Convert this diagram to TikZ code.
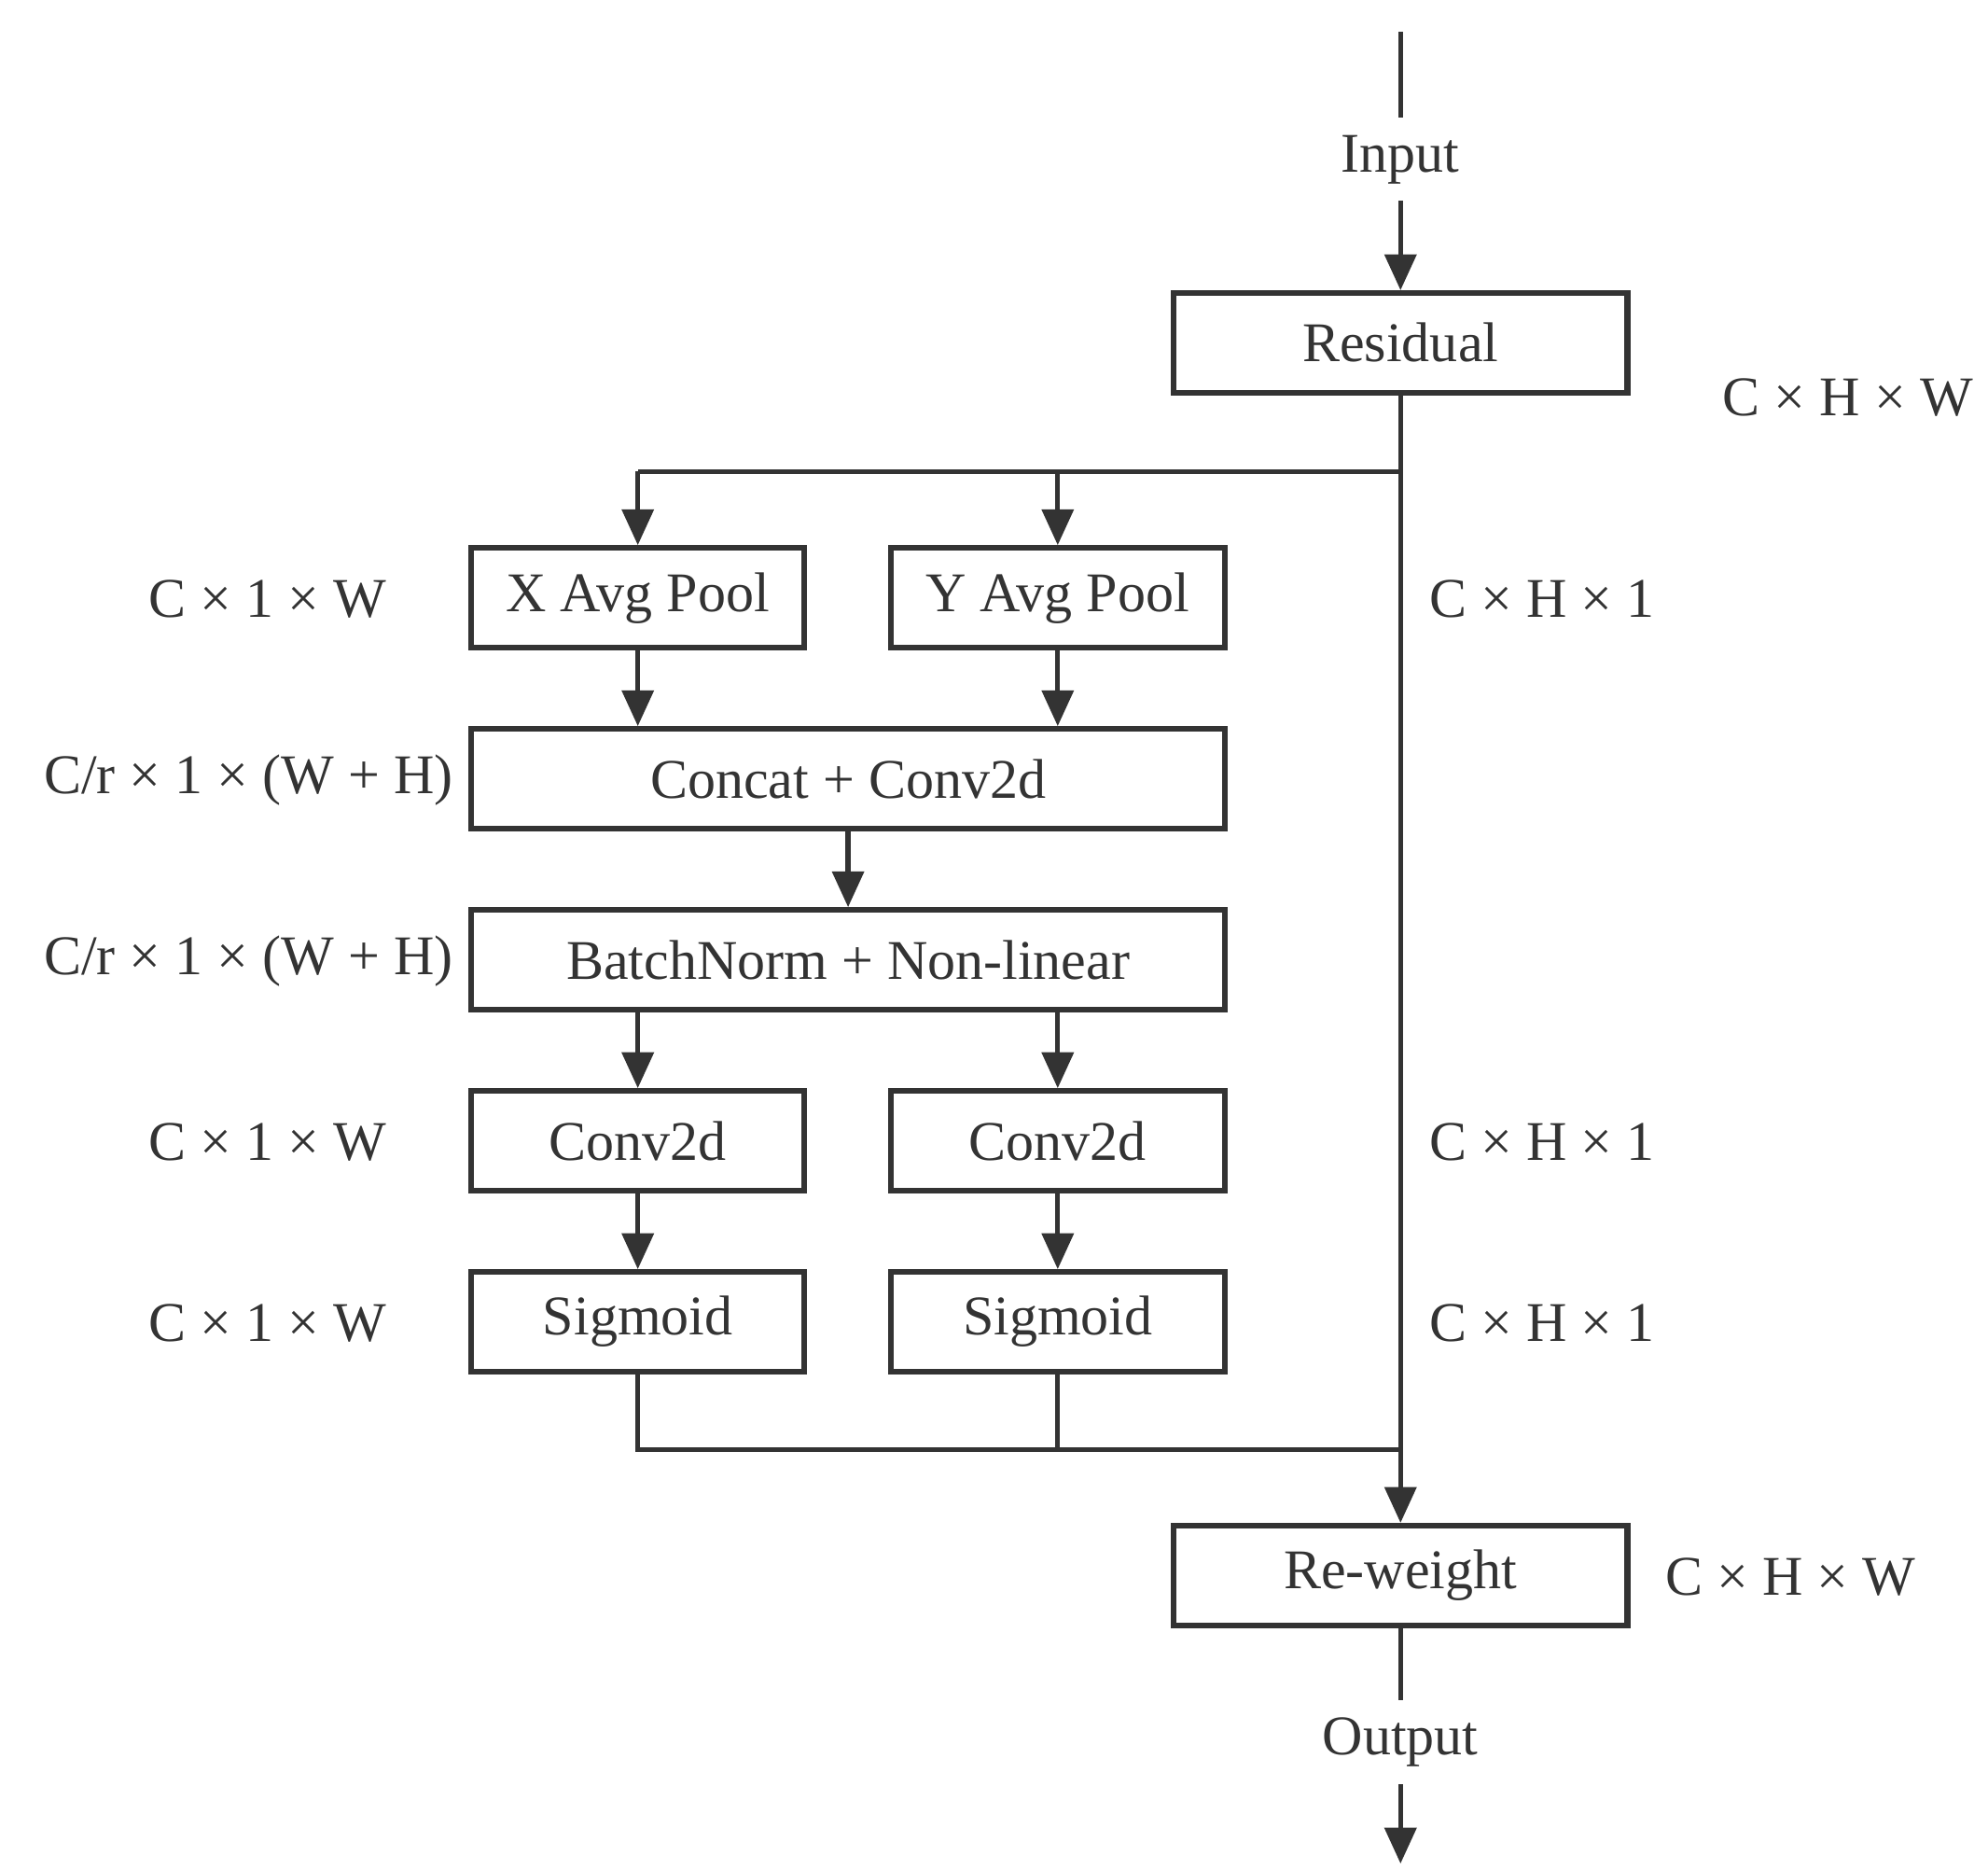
\documentclass[tikz,border=0pt]{standalone}
\usepackage{fontspec}
\setmainfont{Liberation Serif}
\usetikzlibrary{arrows.meta}
\definecolor{ink}{HTML}{333333}
\begin{document}
\begin{tikzpicture}[x=0.01cm,y=-0.01cm,
  line width=1.1pt, draw=ink, text=ink,
  box/.style={draw=ink, line width=1.3pt, minimum height=0.78cm, inner sep=0pt, font=\fontsize{12.5}{15}\selectfont},
  lab/.style={font=\fontsize{12.5}{15}\selectfont, text=ink},
  arr/.style={-{Triangle[length=8pt,width=7pt]}, draw=ink}]
\useasboundingbox (0,0) rectangle (1560,1467);
\node[box, minimum width=3.56cm] (res) at (1099,269) {Residual};
\node[box, minimum width=2.61cm] (xp) at (500.5,469) {X Avg Pool};
\node[box, minimum width=2.62cm] (yp) at (830,469) {Y Avg Pool};
\node[box, minimum width=5.91cm] (cc) at (665.5,611) {Concat + Conv2d};
\node[box, minimum width=5.91cm] (bn) at (665.5,753) {BatchNorm + Non-linear};
\node[box, minimum width=2.61cm] (c1) at (500.5,895) {Conv2d};
\node[box, minimum width=2.62cm] (c2) at (830,895) {Conv2d};
\node[box, minimum width=2.61cm] (s1) at (500.5,1037) {Sigmoid};
\node[box, minimum width=2.62cm] (s2) at (830,1037) {Sigmoid};
\node[box, minimum width=3.56cm] (rw) at (1099,1236) {Re-weight};
\node[lab] (in) at (1099,125) {Input};
\node[lab] (out) at (1099,1367) {Output};
\coordinate (top) at (1099,25);
\coordinate (bot) at (1099,1462);
\coordinate (br) at (1099,370);
\coordinate (mg) at (1099,1137);
\node[lab] at (1450,312) {C × H × W};
\node[lab] at (1405,1237) {C × H × W};
\node[lab] at (210,470) {C × 1 × W};
\node[lab] at (210,896) {C × 1 × W};
\node[lab] at (210,1038) {C × 1 × W};
\node[lab] at (195,612) {C/r × 1 × (W + H)};
\node[lab] at (195,754) {C/r × 1 × (W + H)};
\node[lab] at (1210,470) {C × H × 1};
\node[lab] at (1210,896) {C × H × 1};
\node[lab] at (1210,1038) {C × H × 1};
\draw (top) -- (in.north);
\draw[arr] (in.south) -- (res.north);
\draw[arr] (res.south) -- (rw.north);
\draw (br) -- (500.5,370);
\draw[arr] (500.5,370) -- (xp.north);
\draw[arr] (830,370) -- (yp.north);
\draw[arr] (xp.south) -- (xp.south|-cc.north);
\draw[arr] (yp.south) -- (yp.south|-cc.north);
\draw[arr] (cc.south) -- (bn.north);
\draw[arr] (c1.north|-bn.south) -- (c1.north);
\draw[arr] (c2.north|-bn.south) -- (c2.north);
\draw[arr] (c1.south) -- (s1.north);
\draw[arr] (c2.south) -- (s2.north);
\draw (s1.south) |- (mg);
\draw (s2.south) -- (s2.south|-mg);
\draw (rw.south) -- (out.north);
\draw[arr] (out.south) -- (bot);
\end{tikzpicture}
\end{document}
